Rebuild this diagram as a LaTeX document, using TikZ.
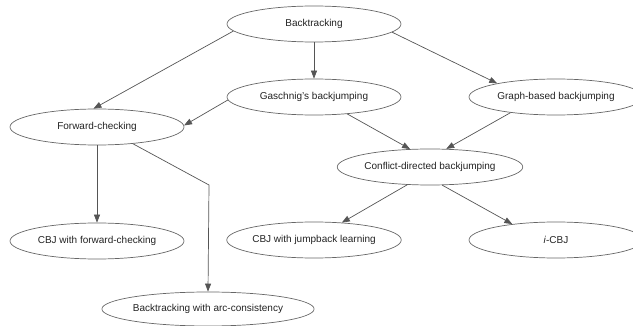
\documentclass[tikz,border=0pt]{standalone}
\usepackage{fontspec}
\setmainfont{Liberation Sans}
\usetikzlibrary{shapes.geometric,arrows.meta}
\definecolor{edgec}{HTML}{555555}
\definecolor{linec}{HTML}{666666}
\definecolor{textc}{HTML}{222222}
\tikzset{
  nd/.style={ellipse, draw=linec, line width=0.7pt, minimum width=174pt, minimum height=36pt, inner sep=0pt, font=\fontsize{10}{12}\selectfont, text=textc},
  con/.style={draw=edgec, line width=0.7pt, -{Triangle[length=8pt,width=6pt]}, fill=none},
}
\begin{document}
\begin{tikzpicture}[x=1pt,y=-1pt]
\useasboundingbox (0,0) rectangle (633,326);
\node[nd] (bt) at (314,24) {Backtracking};
\node[nd] (gas) at (314,97) {Gaschnig's backjumping};
\node[nd] (fc) at (97,127) {Forward-checking};
\node[nd] (gb) at (556,97) {Graph-based backjumping};
\node[nd] (cdb) at (430,167) {Conflict-directed backjumping};
\node[nd] (cbjfc) at (97,241) {CBJ with forward-checking};
\node[nd] (cbjj) at (314,240) {CBJ with jumpback learning};
\node[nd] (icbj) at (556,240) {\textit{i}-CBJ};
\node[nd, minimum height=34pt] (btac) at (208,309) {Backtracking with arc-consistency};
\coordinate (bend) at (209,185);
\draw[con] (bt.185) -- (fc.101);
\draw[con] (bt.south) -- (gas.north);
\draw[con] (bt.354.6) -- (gb.167);
\draw[con] (gas.182) -- (fc.1);
\draw[con] (gas.333) -- (cdb.138);
\draw[con] (gb.199) -- (cdb.48.6);
\draw[con] (fc.south) -- (cbjfc.north);
\draw[con] (fc.335) -- (bend) -- (btac.north);
\draw[con] (cdb.218) -- (cbjj.32);
\draw[con] (cdb.304) -- (icbj.160.5);
\end{tikzpicture}
\end{document}
